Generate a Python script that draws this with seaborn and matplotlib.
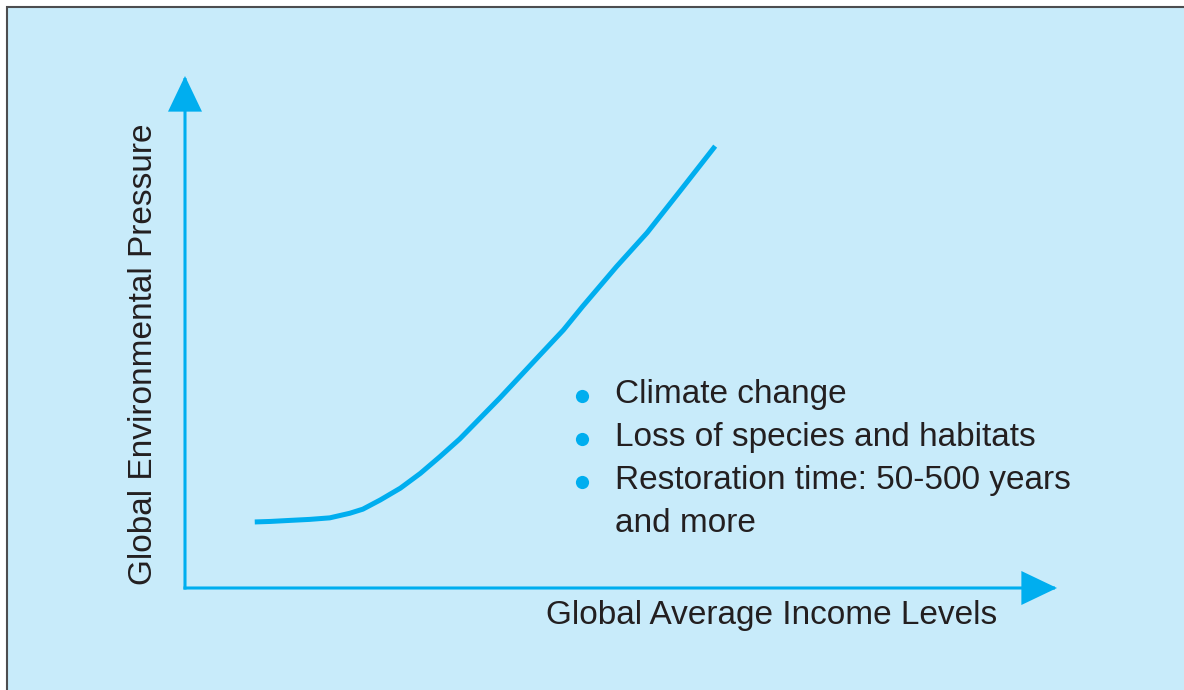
import matplotlib
matplotlib.use('Agg')
import matplotlib.pyplot as plt
import matplotlib.patches as mpatches
import seaborn as sns

# Curve data (income level vs environmental pressure, arbitrary units 0-100)
income = [8.0, 9.8, 12.0, 14.3, 16.6, 18.9, 20.4, 22.4, 24.7, 27.0, 29.2,
          31.5, 33.8, 36.1, 38.4, 40.7, 43.4, 45.6, 49.5, 53.0, 56.8, 60.8]
pressure = [12.9, 13.0, 13.2, 13.4, 13.7, 14.6, 15.4, 17.2, 19.5, 22.4, 25.6,
            29.1, 33.1, 37.1, 41.3, 45.5, 50.4, 55.0, 62.8, 69.4, 77.6, 86.3]

x_label = 'Global Average Income Levels'
y_label = 'Global Environmental Pressure'
bullet_lines = ['Climate change', 'Loss of species and habitats',
                'Restoration time: 50-500 years', 'and more']
has_bullet = [True, True, True, False]

cyan = '#00aeef'
bg = '#c8ebfa'
text_col = '#231f20'

sns.set_theme(style='white')
plt.rcParams['font.family'] = ['Liberation Sans', 'DejaVu Sans']

fig = plt.figure(figsize=(11.84, 6.9), dpi=100)
fig.patch.set_facecolor('white')

# light blue panel with dark border (runs off the right/bottom edge)
panel = mpatches.Rectangle((7 / 1184, -0.05), 1.1, 1 - 7 / 690 + 0.05,
                           transform=fig.transFigure, facecolor=bg,
                           edgecolor='#4d4d4f', linewidth=1.5, zorder=-10)
fig.patches.append(panel)

# axes: origin at (185, 588) px, arrow tips at x=1057 and y=76
ax = fig.add_axes([185 / 1184, (690 - 588) / 690, (1057 - 185) / 1184, (588 - 76) / 690])
ax.set_zorder(1)
ax.set_facecolor('none')
ax.set_xlim(0, 100)
ax.set_ylim(0, 100)
for s in ax.spines.values():
    s.set_visible(False)
ax.set_xticks([])
ax.set_yticks([])

# axis arrows
arrow_kw = dict(arrowstyle='-|>,head_length=2.2,head_width=1.05', mutation_scale=10,
                lw=2.2, color=cyan, shrinkA=0, shrinkB=0, joinstyle='miter',
                capstyle='projecting')
ax.annotate('', xy=(0, 1), xytext=(0, 0), xycoords='axes fraction',
            arrowprops=arrow_kw, annotation_clip=False)
ax.annotate('', xy=(1, 0), xytext=(0, 0), xycoords='axes fraction',
            arrowprops=arrow_kw, annotation_clip=False)

# the curve
sns.lineplot(x=income, y=pressure, ax=ax, color=cyan, lw=3.6, solid_capstyle='butt')

# axis labels
ax.text(0.9312, -0.0703, x_label, transform=ax.transAxes, ha='right', va='baseline',
        fontsize=24, color=text_col)
ax.text(-0.0378, 0.0059, y_label, transform=ax.transAxes, ha='left', va='baseline',
        rotation=90, rotation_mode='anchor', fontsize=24, color=text_col)

# bullet list
base_y = 0.3613
step = 43 / 512
for i, line in enumerate(bullet_lines):
    y = base_y - i * step
    ax.text(0.4931, y, line, transform=ax.transAxes, ha='left', va='baseline',
            fontsize=24, color=text_col)
    if has_bullet[i]:
        ax.plot([0.4553], [y + 7.5 / 512], transform=ax.transAxes, marker='o',
                markersize=9.5, color=cyan, markeredgewidth=0, clip_on=False)

fig.savefig('out.png', dpi=100)
